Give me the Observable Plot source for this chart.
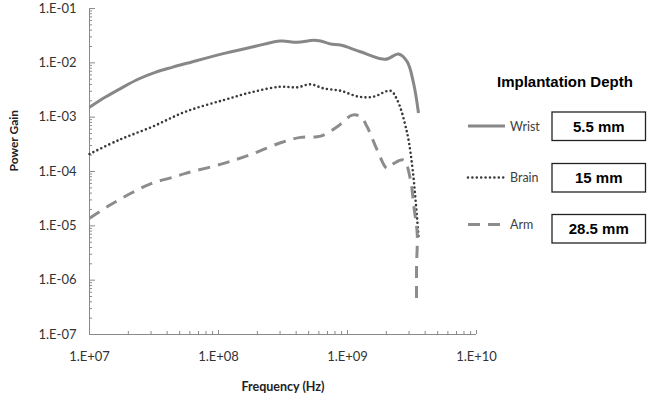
<!DOCTYPE html>
<html><head><meta charset="utf-8">
<script src="https://cdn.jsdelivr.net/npm/d3@7"></script>
<script src="https://cdn.jsdelivr.net/npm/@observablehq/plot@0.6"></script>
<style>body{margin:0;background:#fff}#chart{width:651px;height:401px}</style>
</head><body><div id="chart"></div>
<script>
const seriesNames = ["Wrist", "Brain", "Arm"];
const depthLabels = ["5.5 mm", "15 mm", "28.5 mm"];
const legendTitle = "Implantation Depth";
const xLabel = "Frequency (Hz)";
const yLabel = "Power Gain";
const xTicks = [1e7, 1e8, 1e9, 1e10];
const yTicks = [1e-7, 1e-6, 1e-5, 1e-4, 1e-3, 1e-2, 1e-1];

const wristFreq = [1.0e7, 1.32e7, 1.78e7, 2.40e7, 3.23e7, 4.35e7, 5.68e7, 1.13e8, 1.87e8, 3.03e8, 4.07e8, 5.45e8, 6.18e8, 7.38e8, 8.83e8, 1.26e9, 1.97e9, 2.48e9, 2.90e9, 3.25e9, 3.55e9];
const wristGain = [1.52e-3, 2.32e-3, 3.47e-3, 5.04e-3, 6.69e-3, 8.26e-3, 9.8e-3, 1.51e-2, 1.98e-2, 2.52e-2, 2.39e-2, 2.6e-2, 2.52e-2, 2.22e-2, 2.13e-2, 1.6e-2, 1.16e-2, 1.45e-2, 1.05e-2, 4.25e-3, 1.19e-3];

const brainFreq = [1.0e7, 1.69e7, 3.06e7, 5.55e7, 1.10e8, 1.87e8, 3.03e8, 4.07e8, 5.16e8, 6.52e8, 8.83e8, 1.22e9, 1.59e9, 2.15e9, 2.43e9, 2.90e9, 3.18e9, 3.37e9, 3.57e9];
const brainGain = [2.1e-4, 3.8e-4, 6.65e-4, 1.26e-3, 2.07e-3, 2.94e-3, 3.63e-3, 3.54e-3, 4.02e-3, 3.39e-3, 3.06e-3, 2.38e-3, 2.38e-3, 3.06e-3, 2.07e-3, 5.1e-4, 1.22e-4, 2.97e-5, 5.45e-6];

const armFreq = [1.0e7, 1.40e7, 2.13e7, 3.04e7, 4.56e7, 5.55e7, 1.10e8, 1.87e8, 3.03e8, 4.32e8, 5.82e8, 6.52e8, 8.32e8, 1.09e9, 1.26e9, 1.42e9, 1.70e9, 2.03e9, 2.29e9, 2.73e9, 3.08e9, 3.27e9, 3.47e9, 3.43e9, 3.43e9];
const armGain = [1.38e-5, 2.31e-5, 4.06e-5, 6.04e-5, 7.98e-5, 9.23e-5, 1.41e-4, 2.15e-4, 3.38e-4, 4.25e-4, 4.36e-4, 4.68e-4, 6.66e-4, 1.09e-3, 1.02e-3, 6.65e-4, 2.48e-4, 1.14e-4, 1.41e-4, 1.62e-4, 6.95e-5, 2.24e-5, 7.2e-6, 1.76e-6, 3.8e-7];

const seriesFreq = [wristFreq, brainFreq, armFreq];
const seriesGain = [wristGain, brainGain, armGain];
const styles = [
  {stroke: "#878787", strokeWidth: 3, strokeDasharray: null, strokeLinecap: "butt"},
  {stroke: "#3a3a3a", strokeWidth: 2.6, strokeDasharray: "0,4.4", strokeLinecap: "round"},
  {stroke: "#8c8c8c", strokeWidth: 3, strokeDasharray: "12,8", strokeLinecap: "butt"}
];

const minorOf = (lo, hi) => { const out = []; for (let e = lo; e < hi; e++) for (let m = 2; m <= 9; m++) out.push(m * Math.pow(10, e)); return out; };
const xMinor = minorOf(7, 10);
const yMinor = minorOf(-7, -1);
const fmt = d => { const e = Math.round(Math.log10(d)); return "1.E" + (e < 0 ? "-" : "+") + String(Math.abs(e)).padStart(2, "0"); };

const rows = seriesNames.map((name, i) => seriesFreq[i].map((f, j) => ({series: name, f, g: seriesGain[i][j]})));

const axisColor = "#8a8a8a";
const svg = Plot.plot({
  width: 651, height: 401,
  marginLeft: 89, marginRight: 175, marginTop: 8, marginBottom: 67,
  style: {fontFamily: "Lato, sans-serif", fontSize: "13px", background: "#fff", color: "#333"},
  x: {type: "log", domain: [1e7, 1e10]},
  y: {type: "log", domain: [1e-7, 1e-1]},
  marks: [
    Plot.ruleX([1e7], {stroke: axisColor}),
    Plot.ruleY([1e-7], {stroke: axisColor}),
    Plot.axisY(yTicks, {tickSize: 0, tickPadding: 13, tickFormat: fmt, fill: "#333", fontSize: 13, label: null}),
    Plot.axisY(yTicks, {tickSize: 6, dx: 6, tickFormat: () => "", stroke: axisColor, label: null}),
    Plot.axisY(yMinor, {tickSize: 3, dx: 3, tickFormat: () => "", stroke: axisColor, label: null}),
    Plot.axisX(xTicks, {tickSize: 0, tickPadding: 17, tickFormat: fmt, fill: "#333", fontSize: 13, label: null}),
    Plot.axisX(xTicks, {tickSize: 4, dy: -4, tickFormat: () => "", stroke: axisColor, label: null}),
    Plot.axisX(xMinor, {tickSize: 3, dy: -3, tickFormat: () => "", stroke: axisColor, label: null}),
    ...rows.map((r, i) => Plot.line(r, {x: "f", y: "g", curve: "catmull-rom", ...styles[i]})),
    Plot.text([yLabel], {text: d => d, frameAnchor: "left", dx: -75, rotate: -90, fontWeight: "bold", fontSize: 12, fill: "#222"}),
    Plot.text([xLabel], {text: d => d, frameAnchor: "bottom", lineAnchor: "middle", dy: 52, fontWeight: "bold", fontSize: 12.5, fill: "#222"})
  ]
});
document.getElementById("chart").appendChild(svg);

// Legend
const g = d3.select(svg).append("g").attr("text-anchor", "start");
g.append("text").attr("x", 497).attr("y", 86.5).attr("text-anchor", "start")
  .attr("font-family", "'Liberation Sans', Arial, sans-serif").attr("font-weight", "bold").attr("font-size", 15)
  .attr("fill", "#000").text(legendTitle);
const lineY = [126, 177.5, 224.5];
const boxTop = [112, 163.5, 214.5];
seriesNames.forEach((name, i) => {
  const s = styles[i];
  const ln = g.append("line").attr("x1", 468).attr("x2", 505).attr("y1", lineY[i]).attr("y2", lineY[i])
    .attr("stroke", s.stroke).attr("stroke-width", s.strokeWidth).attr("stroke-linecap", s.strokeLinecap);
  if (s.strokeDasharray) ln.attr("stroke-dasharray", s.strokeDasharray);
  g.append("text").attr("x", 510).attr("y", lineY[i] + 4.5).attr("text-anchor", "start")
    .attr("font-family", "Lato, sans-serif").attr("font-size", 12.5).attr("fill", "#404040").text(name);
  g.append("rect").attr("x", 552).attr("y", boxTop[i]).attr("width", 93.5).attr("height", 28.5)
    .attr("fill", "#fff").attr("stroke", "#222").attr("stroke-width", 1.3);
  g.append("text").attr("x", 598.75).attr("y", boxTop[i] + 14.25 + 5.3).attr("text-anchor", "middle")
    .attr("font-family", "'Liberation Sans', Arial, sans-serif").attr("font-weight", "bold").attr("font-size", 15)
    .attr("fill", "#000").text(depthLabels[i]);
});
</script></body></html>
